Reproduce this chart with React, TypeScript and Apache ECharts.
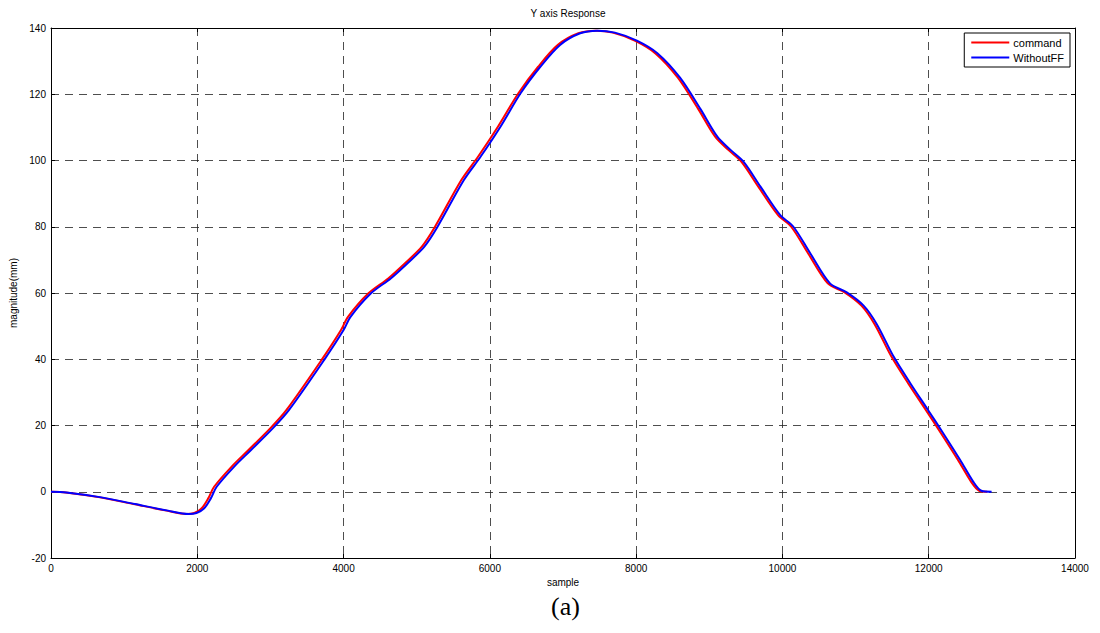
import React, { useEffect, useRef } from "react";
import * as echarts from "echarts";

const commandX = [0, 200, 670, 1125, 1580, 1850, 1960, 2060, 2150, 2230, 2470, 2700, 3000, 3220, 3700, 3965, 4060, 4340, 4610, 4840, 5070, 5250, 5610, 5840, 6110, 6390, 6660, 6930, 7210, 7450, 7680, 7980, 8260, 8570, 8850, 9080, 9260, 9440, 9670, 9940, 10120, 10350, 10620, 10850, 11080, 11260, 11490, 11720, 11960, 12170, 12400, 12580, 12690, 12800];
const commandY = [0, -0.2, -1.7, -3.7, -5.7, -6.7, -6.4, -5.0, -2.0, 1.5, 7.6, 12.6, 19.2, 24.7, 39.8, 48.8, 52.8, 59.9, 64.4, 69.0, 74.0, 80.0, 94.1, 101.2, 110.2, 120.3, 128.3, 134.9, 138.4, 139.2, 138.6, 136.2, 132.4, 125.0, 115.5, 107.2, 103.2, 99.6, 92.1, 83.5, 80.0, 72.0, 62.9, 60.2, 56.2, 50.6, 40.8, 32.7, 24.7, 17.6, 9.6, 3.0, 0.3, 0];

const withoutFFX = [0, 210, 690, 1145, 1600, 1880, 1990, 2095, 2185, 2265, 2505, 2735, 3035, 3255, 3735, 4000, 4095, 4375, 4645, 4875, 5105, 5285, 5645, 5875, 6145, 6420, 6690, 6960, 7235, 7470, 7710, 8010, 8290, 8600, 8880, 9110, 9290, 9470, 9700, 9970, 10150, 10380, 10650, 10880, 11110, 11290, 11520, 11750, 11990, 12200, 12430, 12610, 12720, 12860];
const withoutFFY = [0, -0.2, -1.7, -3.7, -5.7, -6.7, -6.4, -5.0, -2.0, 1.5, 7.6, 12.6, 19.2, 24.7, 39.8, 48.8, 52.8, 59.9, 64.4, 69.0, 74.0, 80.0, 94.1, 101.2, 110.2, 120.3, 128.3, 134.9, 138.4, 139.2, 138.6, 136.2, 132.4, 125.0, 115.5, 107.2, 103.2, 99.6, 92.1, 83.5, 80.0, 72.0, 62.9, 60.2, 56.2, 50.6, 40.8, 32.7, 24.7, 17.6, 9.6, 3.0, 0.3, 0];

const seriesNames = ["command", "WithoutFF"];
const titleText = "Y axis Response";
const xName = "sample";
const yName = "magnitude(mm)";
const captionText = "(a)";

const FONT = "Liberation Sans, Arial, sans-serif";

export default function App() {
  const ref = useRef<HTMLDivElement>(null);
  useEffect(() => {
    if (!ref.current) return;
    const chart = echarts.init(ref.current, null, { renderer: "svg" });
    const pair = (xs: number[], ys: number[]) => xs.map((x, i) => [x, ys[i]]);
    const gridLine = { show: true, lineStyle: { color: "#222", type: [8, 6], width: 1, opacity: 0.8 } };
    const axisLine = { show: true, onZero: false, lineStyle: { color: "#000", width: 1 } };
    const tick = { show: true, inside: true, length: 4, lineStyle: { color: "#000" } };
    const plain = (v: number) => String(v);
    chart.setOption({
      animation: false,
      backgroundColor: "#fff",
      title: {
        text: titleText,
        left: 563,
        top: 3,
        textAlign: "center",
        textStyle: { fontFamily: FONT, fontSize: 10, fontWeight: "normal", color: "#000" },
      },
      legend: {
        right: 30,
        top: 33,
        orient: "vertical",
        backgroundColor: "#fff",
        borderColor: "#000",
        borderWidth: 1,
        borderRadius: 0,
        padding: [4, 6, 4, 7],
        itemGap: 4,
        itemWidth: 38,
        itemHeight: 2,
        icon: "rect",
        textStyle: { fontFamily: FONT, fontSize: 11, color: "#000", padding: [0, 0, 0, -1] },
        data: seriesNames,
      },
      grid: { left: 51, right: 25, top: 28, bottom: 75, containLabel: false },
      xAxis: [
        {
          type: "value", min: 0, max: 14000, interval: 2000,
          name: xName, nameLocation: "middle", nameGap: 17,
          nameTextStyle: { fontFamily: FONT, fontSize: 10, color: "#000" },
          axisLine, axisTick: tick, splitLine: gridLine,
          axisLabel: { fontFamily: FONT, fontSize: 10, color: "#000", margin: 5, formatter: plain },
        },
        {
          type: "value", min: 0, max: 14000, interval: 2000, position: "top",
          axisLine, axisTick: tick, splitLine: { show: false }, axisLabel: { show: false },
        },
      ],
      yAxis: [
        {
          type: "value", min: -20, max: 140, interval: 20,
          name: yName, nameLocation: "middle", nameGap: 30,
          nameTextStyle: { fontFamily: FONT, fontSize: 10, color: "#000" },
          axisLine, axisTick: tick, splitLine: gridLine,
          axisLabel: { fontFamily: FONT, fontSize: 10, color: "#000", margin: 5, formatter: plain },
        },
        {
          type: "value", min: -20, max: 140, interval: 20, position: "right",
          axisLine, axisTick: tick, splitLine: { show: false }, axisLabel: { show: false },
        },
      ],
      graphic: [
        {
          type: "text",
          left: 551,
          top: 593,
          style: { text: captionText, font: "26px 'Liberation Serif', 'Times New Roman', serif", fill: "#000" },
        },
      ],
      series: [
        {
          name: seriesNames[0], type: "line", data: pair(commandX, commandY),
          showSymbol: false, smooth: 0.3, color: "#ff0000",
          lineStyle: { color: "#ff0000", width: 2 },
        },
        {
          name: seriesNames[1], type: "line", data: pair(withoutFFX, withoutFFY),
          showSymbol: false, smooth: 0.3, color: "#0000ff",
          lineStyle: { color: "#0000ff", width: 2 },
        },
      ],
    });
    return () => chart.dispose();
  }, []);
  return <div ref={ref} style={{ width: 1100, height: 633, position: "absolute", left: 0, top: 0 }} />;
}
